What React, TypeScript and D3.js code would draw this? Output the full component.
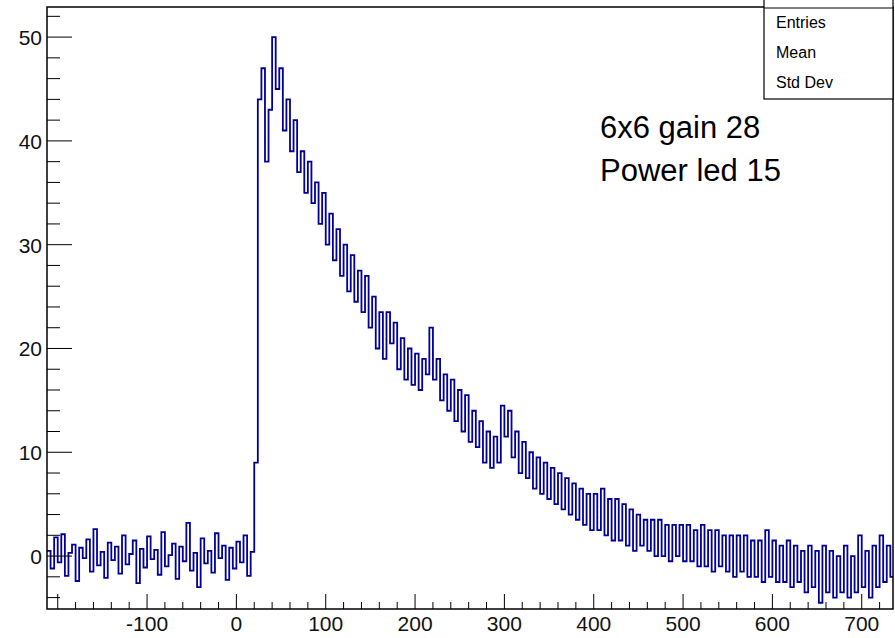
import * as d3 from "d3";

// histogram, bin width 4, first bin starts at -212
const binStart = -212;
const binWidth = 4;
const baseline = [
  0.5, -1.2, 1.8, -0.6, 2.1, -1.9, 0.3, 1.1, -2.4, 0.8,
  -0.2, 1.6, -1.5, 2.6, -0.9, 0.4, -2.1, 1.3, -0.4, 0.9,
  -1.7, 2.0, -0.8, 0.2, 1.5, -2.6, 0.7, -1.1, 1.9, -0.3,
  0.6, -1.8, 2.3, -1.0, 0.1, 1.2, -2.2, 0.9, -0.5, 3.2,
  -1.4, 0.3, -3.0, 1.7, -0.7, 0.5, -1.6, 2.2, -0.2, 1.0,
  -2.3, 0.8, -1.2, 1.4, -0.6, 2.0, -1.9, 0.4,
];
const signal = [
  9, 44, 47, 38, 43, 50, 45, 47, 41, 44,
  39, 42, 37, 39, 35, 38, 34, 36, 32, 35,
  30, 33, 28.5, 31.5, 27, 30, 25.5, 29, 24.5, 27.5,
  23.5, 27, 22, 25, 20, 23.5, 19, 23.5, 20.5, 22.5,
  18, 21, 17, 20, 16.5, 19.5, 16, 19, 17.5, 22,
  17, 19, 15, 17.5, 14, 17, 13, 16, 12, 15.5,
  11, 14, 10.5, 13, 9, 12, 8.5, 11.5, 9, 14.5,
  11.5, 14, 9.5, 12, 8, 11, 7.5, 10, 6.5, 9.5,
  6, 9, 5.5, 8.5, 5, 8, 4.5, 7.5, 4, 7,
  3.5, 6.5, 3, 6, 2.5, 6, 2.5, 6.5, 2, 5.5,
  1.5, 5.5, 1.5, 5, 1, 4.5, 0.5, 4, 1, 3.5,
  0.5, 3.5, 0, 3.5, 0, 3, -0.5, 3, 0, 3,
  -0.5, 3, -0.5, 2.5, -1, 3, -1, 2.5, -1.5, 2.5,
  -1, 2, -1.5, 2, -2, 2, -1.5, 2, -2, 1.5,
  -2, 1.5, -2.5, 2.5, -2, 1.5, -2.5, 1, -2.5, 1.5,
  -3, 1, -2.5, 0.5, -3.5, 1, -3, 0.5, -4.5, 1,
  -3.5, 0.5, -4, 0, -3.5, 1, -4, 0, -3.5, 2,
  -3, 0.5, -4, 1, -3, 2, -2.5, 1, -2,
];
const counts = [...baseline, ...signal];
const xTickLabels = [-100, 0, 100, 200, 300, 400, 500, 600, 700];
const yTickLabels = [0, 10, 20, 30, 40, 50];
const statsRows = ["Entries", "Mean", "Std Dev"];
const noteLines = ["6x6 gain 28", "Power led 15"];

export default function App() {
  const W = 895, H = 638;
  const L = 47, R = 893, T = 7, B = 609;
  const x = d3.scaleLinear().domain([-212, 735]).range([L, R]);
  const y = d3.scaleLinear().domain([-5.1, 52.9]).range([B, T]);
  const pts: [number, number][] = counts.map((c, i) => [binStart + i * binWidth, c]);
  pts.push([binStart + counts.length * binWidth, counts[counts.length - 1]]);
  const line = d3
    .line<[number, number]>()
    .x((d) => x(d[0]))
    .y((d) => y(d[1]))
    .curve(d3.curveStepAfter);

  const xMinor = d3.range(-200, 735, 20);
  const yMinor = d3.range(-4, 53, 2);
  const font = "Liberation Sans, Arial, sans-serif";

  return (
    <svg width={W} height={H} style={{ position: "absolute", left: 0, top: 0, background: "#fff" }}>
      <defs>
        <clipPath id="plot">
          <rect x={L} y={T} width={R - L} height={B - T} />
        </clipPath>
      </defs>
      <path d={line(pts) ?? ""} fill="none" stroke="#000099" strokeWidth={1.8} clipPath="url(#plot)" />
      <rect x={L} y={T} width={R - L} height={B - T} fill="none" stroke="#000" strokeWidth={1.5} />
      {xMinor.map((v) => (
        <line key={"xm" + v} x1={x(v)} x2={x(v)} y1={B} y2={B - (v % 100 === 0 ? 15 : 7)} stroke="#000" />
      ))}
      {yMinor.map((v) => (
        <line key={"ym" + v} x1={L} x2={L + (v % 10 === 0 ? 25 : 13)} y1={y(v)} y2={y(v)} stroke="#000" />
      ))}
      {xTickLabels.map((v) => (
        <text key={"xl" + v} x={x(v)} y={631} textAnchor="middle" fontFamily={font} fontSize={21} fill="#111">
          {v}
        </text>
      ))}
      {yTickLabels.map((v) => (
        <text key={"yl" + v} x={42} y={y(v) + 8} textAnchor="end" fontFamily={font} fontSize={21} fill="#111">
          {v}
        </text>
      ))}
      <rect x={764} y={-2} width={129} height={101} fill="#fff" stroke="#000" strokeWidth={1.2} />
      <line x1={764} x2={893} y1={8} y2={8} stroke="#000" />
      {statsRows.map((s, i) => (
        <text key={s} x={776} y={28 + i * 30} fontFamily={font} fontSize={16} fill="#000">
          {s}
        </text>
      ))}
      {noteLines.map((s, i) => (
        <text key={s} x={600} y={138 + i * 43} fontFamily={font} fontSize={31} fill="#000">
          {s}
        </text>
      ))}
    </svg>
  );
}
